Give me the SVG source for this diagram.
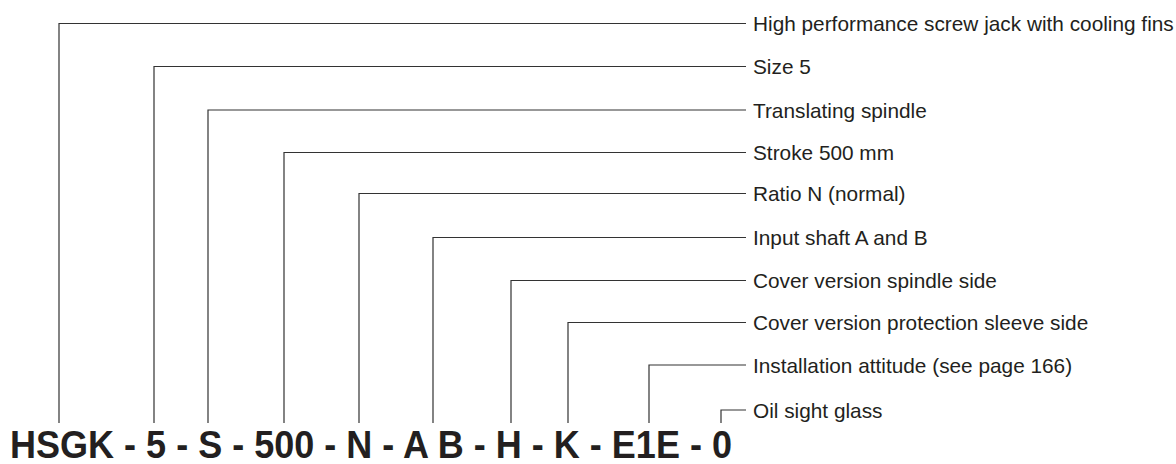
<svg xmlns="http://www.w3.org/2000/svg" width="1176" height="464" viewBox="0 0 1176 464">
<style>
.ln{fill:none;stroke:#333;stroke-width:1.2}
.lb{font-family:"Liberation Sans",Arial,Helvetica,sans-serif;font-size:20.8px;fill:#231f20}
.code{font-family:"Liberation Sans",Arial,Helvetica,sans-serif;font-size:38.5px;font-weight:bold;fill:#231f20}
</style>
<rect width="1176" height="464" fill="#fff"/>
<g id="connectors">
<polyline class="ln" points="59,423 59,23.5 746,23.5"/>
<polyline class="ln" points="154,423 154,66.5 746,66.5"/>
<polyline class="ln" points="208,423 208,110 746,110"/>
<polyline class="ln" points="284,423 284,152.5 746,152.5"/>
<polyline class="ln" points="359,423 359,193.5 746,193.5"/>
<polyline class="ln" points="433,423 433,237.5 746,237.5"/>
<polyline class="ln" points="511,423 511,280.5 746,280.5"/>
<polyline class="ln" points="568,423 568,322.5 746,322.5"/>
<polyline class="ln" points="649,423 649,365 746,365"/>
<polyline class="ln" points="721,423 721,410 746,410"/>
</g>
<g id="label-type"><text class="lb" x="753" y="31">High performance screw jack with cooling fins</text></g>
<g id="label-size"><text class="lb" x="753" y="74">Size 5</text></g>
<g id="label-spindle"><text class="lb" x="753" y="117.5">Translating spindle</text></g>
<g id="label-stroke"><text class="lb" x="753" y="160">Stroke 500 mm</text></g>
<g id="label-ratio"><text class="lb" x="753" y="201">Ratio N (normal)</text></g>
<g id="label-input"><text class="lb" x="753" y="245">Input shaft A and B</text></g>
<g id="label-cover-spindle"><text class="lb" x="753" y="288">Cover version spindle side</text></g>
<g id="label-cover-sleeve"><text class="lb" x="753" y="330">Cover version protection sleeve side</text></g>
<g id="label-attitude"><text class="lb" x="753" y="372.5">Installation attitude (see page 166)</text></g>
<g id="label-oil"><text class="lb" x="753" y="417.5">Oil sight glass</text></g>
<g id="code"><text class="code" x="10" y="458" textLength="722" lengthAdjust="spacingAndGlyphs">HSGK - 5 - S - 500 - N - A B - H - K - E1E - 0</text></g>
</svg>
